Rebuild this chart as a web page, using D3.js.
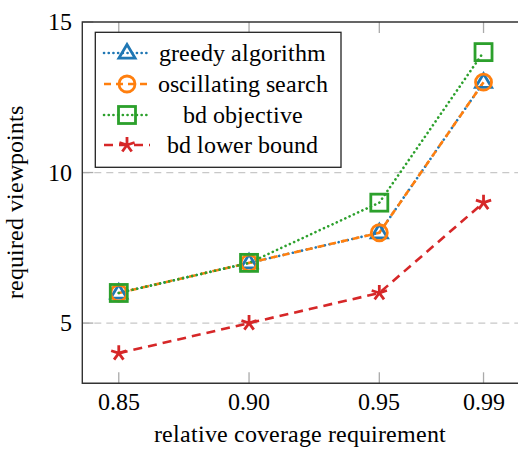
<!DOCTYPE html>
<html><head><meta charset="utf-8">
<script src="https://cdn.jsdelivr.net/npm/d3@7"></script>
<style>
@font-face { font-family: "ChartSerif"; src: local("Liberation Serif"), local("LiberationSerif"), local("Liberation Serif Regular"); }
body{margin:0;background:#fff}
svg{display:block}
svg text, text.lbl { font-family: "ChartSerif", "Liberation Serif", "Times New Roman", serif !important; }
</style>
</head><body>
<script>
const xValues = [0.85, 0.90, 0.95, 0.99];
const xTickLabels = ["0.85", "0.90", "0.95", "0.99"];
const yTicks = [5, 10, 15];
const greedy = [6, 7, 8, 13];
const oscillating = [6, 7, 8, 13];
const bdObjective = [6, 7, 9, 14];
const bdLowerBound = [4, 5, 6, 9];
const seriesNames = ["greedy algorithm", "oscillating search", "bd objective", "bd lower bound"];

const FONT = "'Liberation Serif', serif";
const W = 518, H = 449;
const svg = d3.select("body").append("svg").attr("width", W).attr("height", H);
const x = d3.scaleLinear().domain([0.836, 1.004]).range([82.3, 520]);
const y = d3.scaleLinear().domain([3, 15]).range([383.3, 22]);

const series = [
  {name: seriesNames[0], data: greedy, color: "#1f77b4", dash: "0.1,4.6", cap: "round", mark: "triangle"},
  {name: seriesNames[1], data: oscillating, color: "#ff7f0e", dash: "7,5", cap: "butt", mark: "circle"},
  {name: seriesNames[2], data: bdObjective, color: "#2ca02c", dash: "0.1,4.6", cap: "round", mark: "square"},
  {name: seriesNames[3], data: bdLowerBound, color: "#d62728", dash: "9,6", cap: "butt", mark: "star"}
];

// grid
const g = svg.append("g");
g.selectAll("line.grid").data(yTicks.filter(v => v < 15)).join("line")
  .attr("x1", x.range()[0]).attr("x2", W).attr("y1", d => y(d)).attr("y2", d => y(d))
  .attr("stroke", "#c8c8c8").attr("stroke-width", 1.3).attr("stroke-dasharray", "7,5");

// ticks (inside)
const tickCol = "#aaaaaa";
g.selectAll("line.xt").data(xValues).join("line")
  .attr("x1", d => x(d)).attr("x2", d => x(d)).attr("y1", y(3)).attr("y2", y(3) - 11)
  .attr("stroke", tickCol).attr("stroke-width", 1.3);
g.selectAll("line.xt2").data(xValues).join("line")
  .attr("x1", d => x(d)).attr("x2", d => x(d)).attr("y1", y(15)).attr("y2", y(15) + 11)
  .attr("stroke", tickCol).attr("stroke-width", 1.3);
g.selectAll("line.yt").data(yTicks).join("line")
  .attr("x1", x.range()[0]).attr("x2", x.range()[0] + 11).attr("y1", d => y(d)).attr("y2", d => y(d))
  .attr("stroke", tickCol).attr("stroke-width", 1.3);

// axis frame
svg.append("path")
  .attr("d", `M${W + 5},${y(15)}H${x.range()[0]}V${y(3)}H${W + 5}`)
  .attr("fill", "none").attr("stroke", "#333").attr("stroke-width", 1.4);

function txt(sel) { return sel.attr("class", "lbl").attr("font-family", FONT).style("font-family", FONT).attr("fill", "#000"); }

// tick labels
txt(svg.selectAll("text.xl").data(xValues).join("text"))
  .attr("x", d => x(d)).attr("y", 410).attr("text-anchor", "middle")
  .attr("font-size", 23.5).text((d, i) => xTickLabels[i]);
txt(svg.selectAll("text.yl").data(yTicks).join("text"))
  .attr("x", 72).attr("y", d => y(d) + 8).attr("text-anchor", "end")
  .attr("font-size", 23.5).text(d => d);

// axis titles
txt(svg.append("text")).attr("x", 300).attr("y", 442).attr("text-anchor", "middle")
  .attr("font-size", 24).text("relative coverage requirement");
txt(svg.append("text")).attr("transform", `translate(23,${(y(3) + y(15)) / 2}) rotate(-90)`)
  .attr("text-anchor", "middle").attr("font-size", 24).text("required viewpoints");

// markers
function drawMark(sel, type, color) {
  if (type === "triangle") {
    const r = 8.5;
    sel.append("path").attr("d", `M0,${-r}L${r * 0.95},${r * 0.6}L${-r * 0.95},${r * 0.6}Z`)
      .attr("fill", "none").attr("stroke", color).attr("stroke-width", 2.8).attr("stroke-linejoin", "miter");
  } else if (type === "circle") {
    sel.append("circle").attr("r", 8).attr("fill", "none").attr("stroke", color).attr("stroke-width", 2.8);
  } else if (type === "square") {
    sel.append("rect").attr("x", -8.5).attr("y", -8.5).attr("width", 17).attr("height", 17)
      .attr("fill", "none").attr("stroke", color).attr("stroke-width", 2.8);
  } else if (type === "star") {
    const r = 8;
    let d = "";
    for (let k = 0; k < 5; k++) {
      const a = -Math.PI / 2 + k * 2 * Math.PI / 5;
      d += `M0,0L${r * Math.cos(a)},${r * Math.sin(a)}`;
    }
    sel.append("path").attr("d", d).attr("fill", "none").attr("stroke", color).attr("stroke-width", 2.8);
  }
}

// lines
const line = d3.line().x(d => x(d[0])).y(d => y(d[1]));
series.forEach(s => {
  svg.append("path").datum(xValues.map((v, i) => [v, s.data[i]]))
    .attr("d", line).attr("fill", "none").attr("stroke", s.color).attr("stroke-width", 2.6)
    .attr("stroke-dasharray", s.dash).attr("stroke-linecap", s.cap);
});
series.forEach(s => {
  xValues.forEach((v, i) => {
    const gm = svg.append("g").attr("transform", `translate(${x(v)},${y(s.data[i])})`);
    drawMark(gm, s.mark, s.color);
  });
});

// legend
const lg = svg.append("g");
lg.append("rect").attr("x", 95.3).attr("y", 32.3).attr("width", 245.7).attr("height", 135)
  .attr("fill", "#fff").attr("stroke", "#222").attr("stroke-width", 1.3);
const rowY = [53, 84, 115, 145];
series.forEach((s, i) => {
  const ry = rowY[i];
  lg.append("line").attr("x1", 104).attr("x2", 150).attr("y1", ry).attr("y2", ry)
    .attr("stroke", s.color).attr("stroke-width", 2.6).attr("stroke-dasharray", s.dash)
    .attr("stroke-linecap", s.cap);
  drawMark(lg.append("g").attr("transform", `translate(127,${ry})`), s.mark, s.color);
  txt(lg.append("text")).attr("x", 242.5).attr("y", ry + 8).attr("text-anchor", "middle")
    .attr("font-size", 24).text(s.name);
});
</script>
</body></html>
